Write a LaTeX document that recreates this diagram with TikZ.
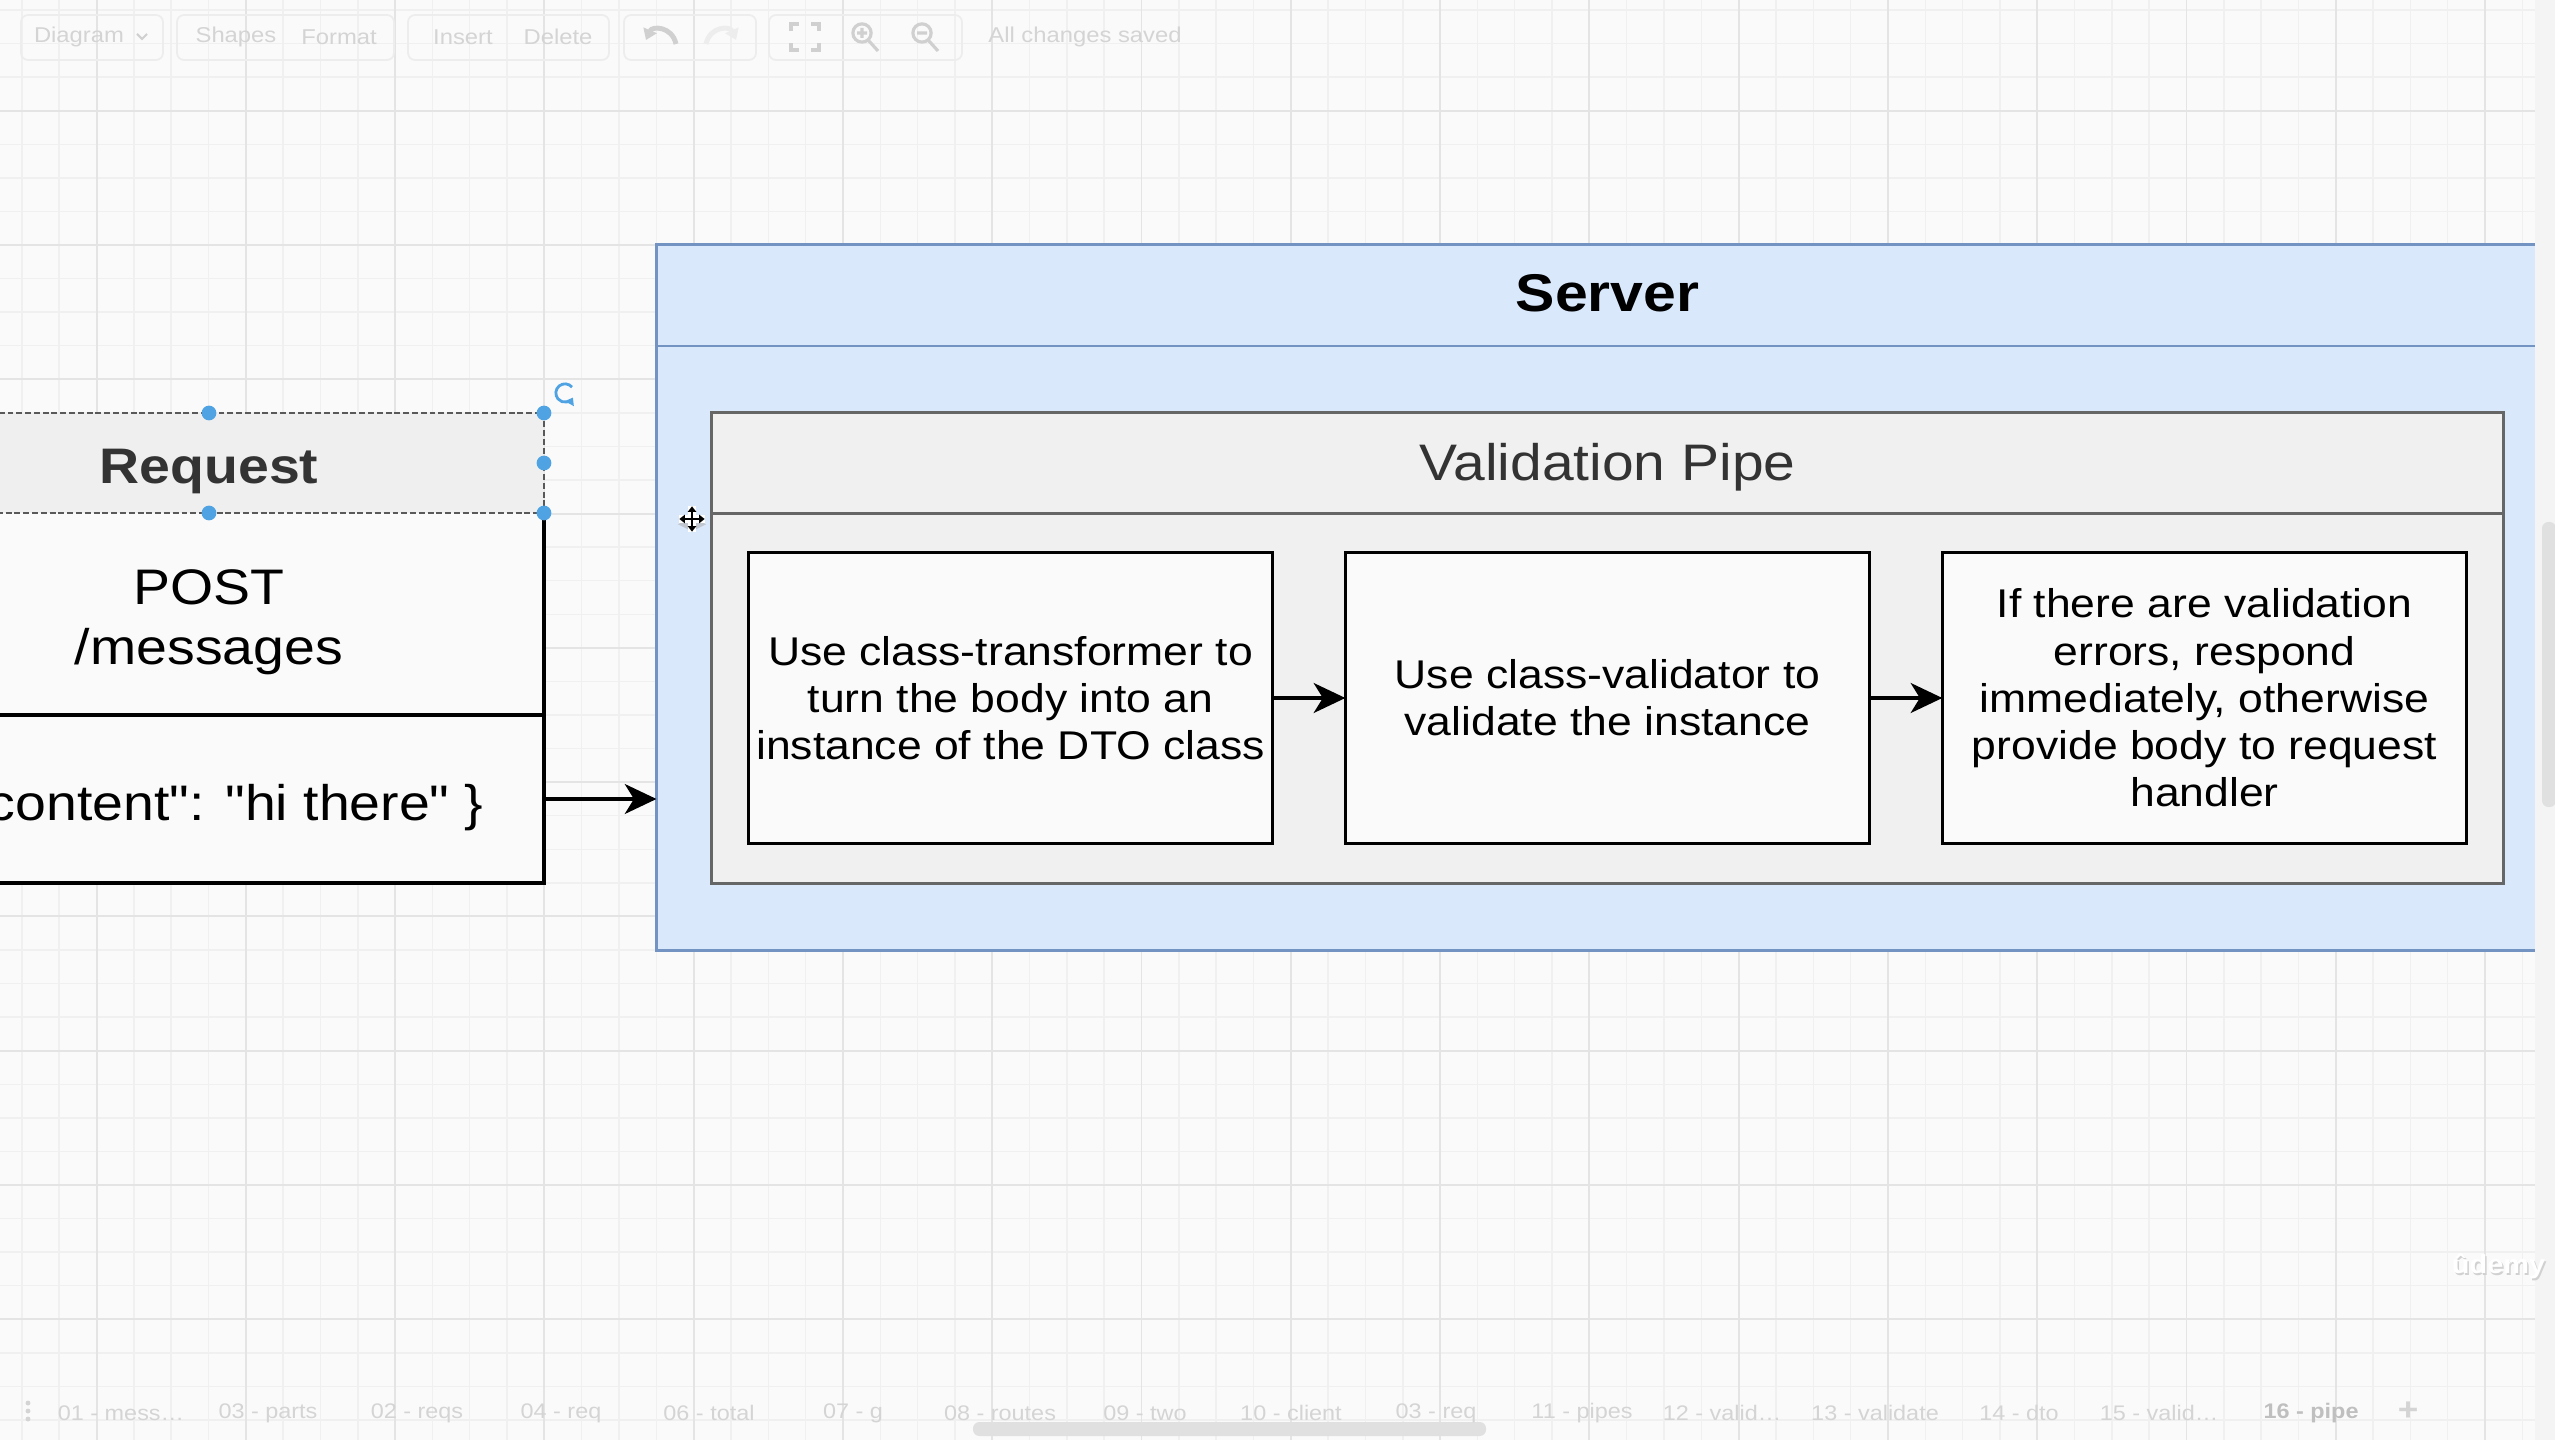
\documentclass[tikz,border=0pt]{standalone}
\usepackage{fontspec}
\setmainfont{Liberation Sans}[FakeStretch=1.11]
\newfontfamily\jsonfont{Liberation Sans}[FakeStretch=1.11, Ligatures=TeXOff]
\usetikzlibrary{arrows.meta}

\definecolor{canvas}{HTML}{FAFAFA}
\definecolor{gridminor}{HTML}{F0F0F0}
\definecolor{gridmajor}{HTML}{E4E4E4}
\definecolor{srvfill}{HTML}{DAE8FC}
\definecolor{srvline}{HTML}{7393C2}
\definecolor{pipefill}{HTML}{F0F0F0}
\definecolor{pipeline}{HTML}{666666}
\definecolor{boxfill}{HTML}{FAFAFA}
\definecolor{hdrfill}{HTML}{EFEFEF}
\definecolor{handle}{HTML}{4FA3E3}
\definecolor{chrome}{HTML}{D4D4D4}
\definecolor{chromeicon}{HTML}{D0D0D0}
\definecolor{chromeline}{HTML}{EDEDED}
\definecolor{panel}{HTML}{F4F4F4}
\definecolor{scroll}{HTML}{E0E0E0}

\tikzset{
  px/.style={x=0.01cm,y=-0.01cm},
  plain/.style={inner sep=0pt, outer sep=0pt},
  boxtext/.style={font=\fontsize{11.4pt}{13.45pt}\selectfont, text=black},
  stepbox/.style={plain, draw=black, line width=0.9pt, fill=boxfill,
    minimum width=5.24cm, minimum height=2.90cm, align=center, boxtext,
    execute at begin node=\rule{0pt}{10pt}},
  flow/.style={draw=black, line width=1pt,
    -{Stealth[length=9pt, width=8.5pt, inset=2.6pt]}},
  srvbox/.style={plain, draw=srvline, line width=0.8pt, fill=srvfill},
  pipebox/.style={plain, draw=pipeline, line width=0.85pt, fill=pipefill},
  reqpart/.style={plain, minimum width=6.70cm},
  reqtext/.style={plain, anchor=base, text=black, font=\fontsize{14.2pt}{17.2pt}\selectfont},
  title/.style={plain, anchor=base},
  reqedge/.style={draw=black, line width=1pt},
  selbox/.style={draw=black!65, line width=0.6pt, dash pattern=on 1.7pt off 0.8pt},
  grip/.style={fill=handle},
  toolbartext/.style={text=chrome, font=\fontsize{6.1pt}{7pt}\selectfont},
  tabtext/.style={text=chrome, font=\fontsize{6pt}{7pt}\selectfont},
  tbgroup/.style={draw=chromeline, line width=0.5pt, rounded corners=2pt},
  tbicon/.style={draw=chromeicon, line width=0.6pt},
}

\begin{document}
\begin{tikzpicture}[px]
\useasboundingbox (0,0) rectangle (2555,1440);
\clip (0,0) rectangle (2555,1440);

% canvas and grid
\fill[canvas] (0,0) rectangle (2555,1440);
\foreach \i in {0,...,68}
  \draw[gridminor, line width=0.42pt] ({21.9+\i*37.32},0) -- ({21.9+\i*37.32},1440);
\foreach \i in {0,...,42}
  \draw[gridminor, line width=0.42pt] (0,{10+\i*33.57}) -- (2555,{10+\i*33.57});
\foreach \i in {0,...,16}
  \draw[gridmajor, line width=0.55pt] ({96.54+\i*149.28},0) -- ({96.54+\i*149.28},1440);
\foreach \i in {0,...,9}
  \draw[gridmajor, line width=0.55pt] (0,{110.7+\i*134.28}) -- (2555,{110.7+\i*134.28});

% toolbar
\draw[tbgroup] (21,15) rectangle (163,60);
\draw[tbgroup] (177,15) rectangle (394,60);
\draw[tbgroup] (408,15) rectangle (609,60);
\draw[tbgroup] (624,15) rectangle (756,60);
\draw[tbgroup] (769,15) rectangle (962,60);
\node[toolbartext] (tbdiagram) at (79,37) {Diagram};
\draw[tbicon] (137,34) -- (142,39) -- (147,34);
\node[toolbartext] (tbshapes) at (236,37) {Shapes};
\node[toolbartext] (tbformat) at (339,37) {Format};
\node[toolbartext] (tbinsert) at (463,37) {Insert};
\node[toolbartext] (tbdelete) at (558,37) {Delete};
\draw[tbicon, line width=1.4pt, {Triangle[length=3pt,width=4pt]}-] (646,40) .. controls (652,26) and (672,26) .. (676,44);
\draw[chromeline, line width=1.4pt, -{Triangle[length=3pt,width=4pt]}] (706,44) .. controls (710,26) and (730,26) .. (736,40);
\draw[tbicon, line width=0.9pt]
  (791,31) -- (791,24) -- (799,24) (811,24) -- (819,24) -- (819,31)
  (819,43) -- (819,50) -- (811,50) (799,50) -- (791,50) -- (791,43);
\draw[tbicon, line width=0.9pt] (862,33) circle[radius=2.6pt] (869,41) -- (878,51)
  (857,33) -- (867,33) (862,28) -- (862,38);
\draw[tbicon, line width=0.9pt] (922,33) circle[radius=2.6pt] (929,41) -- (938,51)
  (917,33) -- (927,33);
\node[toolbartext] (tbsaved) at (1085,37) {All changes saved};

% server container
\node[srvbox, minimum width=19.01cm, minimum height=7.05cm] (server) at (1607.5,597.5) {};
\node[srvbox, minimum width=19.01cm, minimum height=1.01cm] (srvhead) at (1607.5,295.5) {};
\node[title, font=\fontsize{15.1pt}{18pt}\selectfont\bfseries] (srvtitle) at (1607.5,312) {Server};

% validation pipe
\node[pipebox, minimum width=17.91cm, minimum height=4.70cm] (pipe) at (1607.5,648) {};
\node[pipebox, minimum width=17.91cm, minimum height=1.00cm] (pipehead) at (1607.5,463) {};
\node[title, text=black!80, font=\fontsize{14.6pt}{17pt}\selectfont] (pipetitle) at (1607.5,481) {Validation Pipe};

% pipeline steps
\node[stepbox] (transform) at (1010.5,698) {Use class-transformer to\\turn the body into an\\instance of the DTO class};
\node[stepbox] (validate) at (1607.5,698) {Use class-validator to\\validate the instance};
\node[stepbox] (respond) at (2204.5,698) {If there are validation\\errors, respond\\immediately, otherwise\\provide body to request\\handler};
\draw[flow] (transform) -- (validate);
\draw[flow] (validate) -- (respond);

% request card
\node[reqpart, fill=hdrfill, minimum height=1.00cm] (reqhead) at (209,463) {};
\node[reqpart, fill=boxfill, minimum height=2.02cm] (reqline) at (209,614) {};
\node[reqpart, fill=boxfill, minimum height=1.68cm] (reqjson) at (209,799) {};
\node[reqtext, text=black!80, font=\fontsize{14.2pt}{17pt}\selectfont\bfseries] (reqtitle) at (209,484) {Request};
\node[reqtext] (reqverb) at (209,604) {POST};
\node[reqtext] (reqpath) at (209,665) {/messages};
\node[reqtext, font=\fontsize{14.2pt}{17.2pt}\jsonfont] (reqbody) at (209,820) {\{ "content": "hi there" \}};
\draw[reqedge] (reqhead.south east) -- (reqjson.south east) -- (reqjson.south west);
\draw[reqedge] (reqline.south west) -- (reqline.south east);
\draw[flow] (reqjson.east) -- (reqjson.east -| server.west);

% selection outline and handles
\draw[selbox] (reqhead.south west) -- (reqhead.south east) -- (reqhead.north east) -- (reqhead.north west);
\foreach \hx/\hy in {209/413, 544/413, 544/463, 544/513, 209/513}
  \fill[grip] (\hx,\hy) circle[radius=2.1pt];
\coordinate (rot) at (565,393);
\draw[handle, line width=0.8pt, -{Triangle[length=2pt,width=2.8pt]}]
  ([shift={(40:2.6pt)}]rot) arc[start angle=40, end angle=330, radius=2.6pt];

% move cursor
\coordinate (mv) at (692,519);
\fill[black!30, opacity=0.6] ([shift={(-4pt,-1.5pt)}]mv) -- ([shift={(0pt,-3.5pt)}]mv) -- ([shift={(4pt,-1.5pt)}]mv) -- ([shift={(0pt,0.5pt)}]mv) -- cycle;
\draw[white, line width=2pt] ([xshift=-3.8pt]mv) -- ([xshift=3.8pt]mv) ([yshift=-3.8pt]mv) -- ([yshift=3.8pt]mv);
\draw[black, line width=0.7pt, {Triangle[length=1.6pt,width=2.4pt]}-{Triangle[length=1.6pt,width=2.4pt]}]
  ([xshift=-3.6pt]mv) -- ([xshift=3.6pt]mv);
\draw[black, line width=0.7pt, {Triangle[length=1.6pt,width=2.4pt]}-{Triangle[length=1.6pt,width=2.4pt]}]
  ([yshift=-3.6pt]mv) -- ([yshift=3.6pt]mv);

% right side panel and scrollbars
\fill[panel] (2535,0) rectangle (2555,1440);
\fill[scroll, rounded corners=1.8pt] (2542,522) rectangle (2556,807);
\fill[scroll, rounded corners=1.8pt] (973,1422) rectangle (1486,1436);

% watermark
\node[text=black!18, font=\fontsize{7.4pt}{8pt}\selectfont\bfseries] (wm) at (2500,1268) {ûdemy};
\node[text=white, font=\fontsize{7.4pt}{8pt}\selectfont\bfseries] (wmhi) at (2498.5,1266.5) {ûdemy};

% page tabs
\foreach \dy in {1403,1411,1419} \fill[chrome] (28,\dy) circle[radius=0.7pt];
\foreach \tx/\tl in {121/{01 - mess\ldots}, 268/{03 - parts}, 417/{02 - reqs}, 561/{04 - req},
  709/{06 - total}, 853/{07 - g}, 1000/{08 - routes}, 1145/{09 - two}, 1291/{10 - client},
  1436/{03 - req}, 1582/{11 - pipes}, 1722/{12 - valid\ldots}, 1875/{13 - validate},
  2019/{14 - dto}, 2159/{15 - valid\ldots}}
  \node[tabtext] at (\tx,1413) {\tl};
\node[tabtext, text=black!25, font=\fontsize{6pt}{7pt}\selectfont\bfseries] (curtab) at (2311,1413) {16 - pipe};
\node[tabtext, font=\fontsize{9pt}{9pt}\selectfont\bfseries] (addtab) at (2408,1411) {+};
\end{tikzpicture}
\end{document}
